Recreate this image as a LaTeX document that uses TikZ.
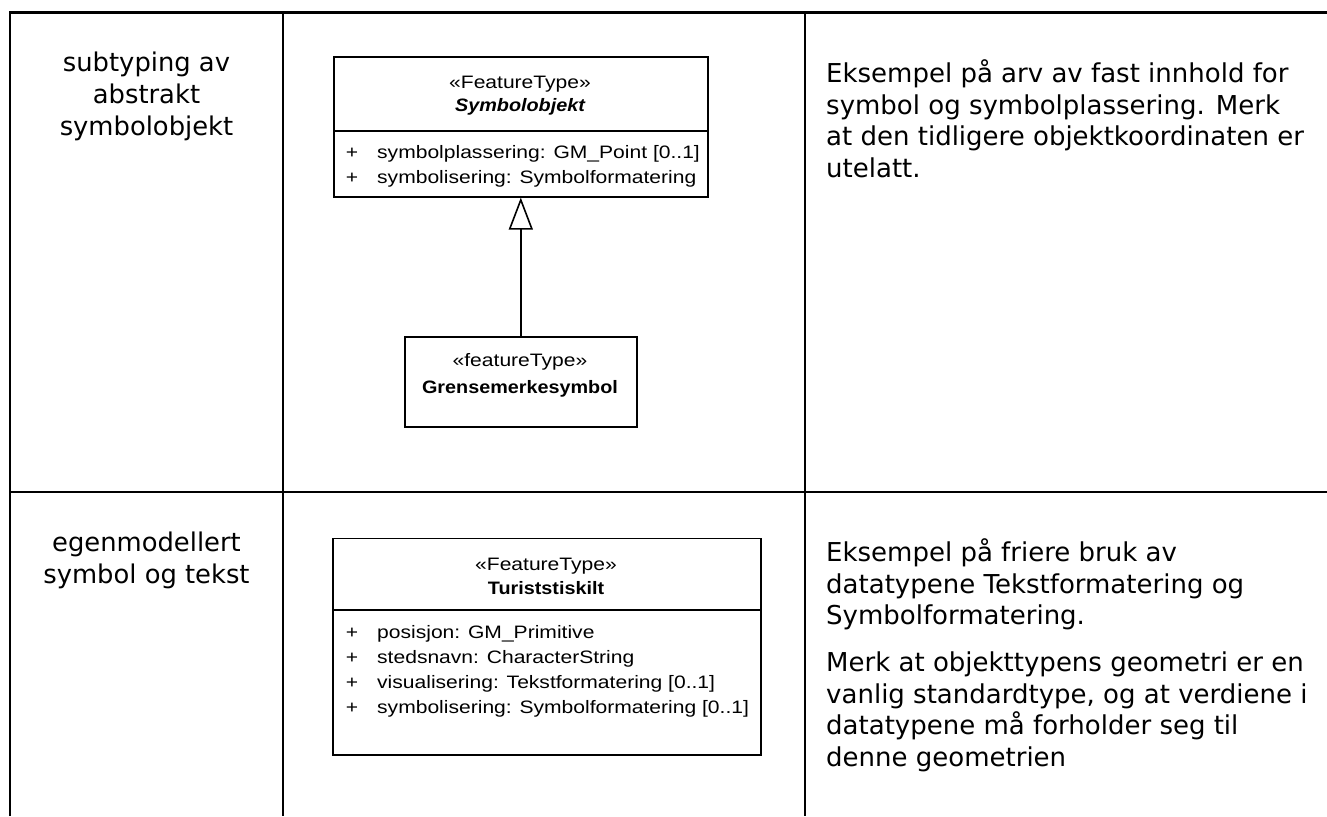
\documentclass[tikz,border=0pt]{standalone}
\usepackage{fontspec}
\setmainfont{DejaVu Sans}
\newfontfamily\umlfont[FakeStretch=1.17]{Liberation Sans}
\newfontfamily\umlboldfont[FakeStretch=1.1]{Liberation Sans}
\usetikzlibrary{arrows.meta}

\begin{document}
\begin{tikzpicture}[x=1pt,y=-1pt,
  grid/.style={line width=2.6pt},
  cell/.style={font=\fontsize{25.8}{32}\selectfont, anchor=base, inner sep=0pt},
  note/.style={font=\fontsize{26}{31.5}\selectfont, anchor=base west, inner sep=0pt},
  umlbox/.style={draw, line width=1.6pt, rectangle, anchor=north west, inner sep=0pt},
  stereo/.style={font=\umlfont\fontsize{18}{22}\selectfont, anchor=base, inner sep=0pt},
  cname/.style={font=\umlboldfont\fontsize{18}{22}\selectfont\bfseries, anchor=base, inner sep=0pt},
  aname/.style={font=\umlboldfont\fontsize{18}{22}\selectfont\bfseries\itshape, anchor=base, inner sep=0pt},
  vis/.style={font=\umlfont\fontsize{18}{22}\selectfont, anchor=base, inner sep=0pt},
  attr/.style={font=\umlfont\fontsize{18}{22}\selectfont, anchor=base west, inner sep=0pt},
  divider/.style={line width=1.6pt},
  generalization/.style={line width=1.6pt, -{Triangle[open, length=32pt, width=24pt, line width=1.6pt]}}
]
\useasboundingbox (0,0) rectangle (1327,816);
\fill[white] (0,0) rectangle (1327,816);

% table frame and cell borders
\draw[grid] (10,816) -- (10,12.3) -- (1327,12.3);
\draw[grid] (283,12.3) -- (283,816);
\draw[grid] (805,12.3) -- (805,816);
\draw[grid] (10,492) -- (1327,492);

% first column
\node[cell] (r1a) at (146.5,71) {subtyping av};
\node[cell] (r1b) at (146.5,103) {abstrakt};
\node[cell] (r1c) at (146.5,135) {symbolobjekt};
\node[cell] (r2a) at (146.5,551) {egenmodellert};
\node[cell] (r2b) at (146.5,583) {symbol og tekst};

% abstract supertype
\node[umlbox, minimum width=374pt, minimum height=140pt] (sym) at (333,56) {};
\node[stereo] (symst) at (520,88.3) {«FeatureType»};
\node[aname] (symnm) at (520,111.7) {Symbolobjekt};
\draw[divider] (sym.west |- 0,130.7) -- (sym.east |- 0,130.7);
\node[vis] (symv1) at (352,158.3) {+};
\node[attr] (syma1) at (377,158.3) {symbolplassering: GM\_Point [0..1]};
\node[vis] (symv2) at (352,183.3) {+};
\node[attr] (syma2) at (377,183.3) {symbolisering: Symbolformatering};

% subtype
\node[umlbox, minimum width=232pt, minimum height=90pt] (gren) at (404,336) {};
\node[stereo] (grenst) at (520,366.7) {«featureType»};
\node[cname] (grennm) at (520,393.3) {Grensemerkesymbol};

\draw[generalization] (gren.north) -- (sym.south);

% self-modelled feature type
\node[umlbox, minimum width=428pt, minimum height=216.3pt] (tur) at (332,537.7) {};
\node[stereo] (turst) at (546,570) {«FeatureType»};
\node[cname] (turnm) at (546,594) {Turiststiskilt};
\draw[divider] (tur.west |- 0,610) -- (tur.east |- 0,610);
\node[vis] (turv1) at (352,638.3) {+};
\node[attr] (tura1) at (377,638.3) {posisjon: GM\_Primitive};
\node[vis] (turv2) at (352,663.3) {+};
\node[attr] (tura2) at (377,663.3) {stedsnavn: CharacterString};
\node[vis] (turv3) at (352,688.3) {+};
\node[attr] (tura3) at (377,688.3) {visualisering: Tekstformatering [0..1]};
\node[vis] (turv4) at (352,713.3) {+};
\node[attr] (tura4) at (377,713.3) {symbolisering: Symbolformatering [0..1]};

% third column
\node[note] (n1a) at (826,82.5) {Eksempel på arv av fast innhold for};
\node[note] (n1b) at (826,114) {symbol og symbolplassering. Merk};
\node[note] (n1c) at (826,145.5) {at den tidligere objektkoordinaten er};
\node[note] (n1d) at (826,177) {utelatt.};

\node[note] (n2a) at (826,561.7) {Eksempel på friere bruk av};
\node[note] (n2b) at (826,593.2) {datatypene Tekstformatering og};
\node[note] (n2c) at (826,624.7) {Symbolformatering.};
\node[note] (n2d) at (826,671.7) {Merk at objekttypens geometri er en};
\node[note] (n2e) at (826,703.2) {vanlig standardtype, og at verdiene i};
\node[note] (n2f) at (826,734.7) {datatypene må forholder seg til};
\node[note] (n2g) at (826,766.2) {denne geometrien};
\end{tikzpicture}
\end{document}
